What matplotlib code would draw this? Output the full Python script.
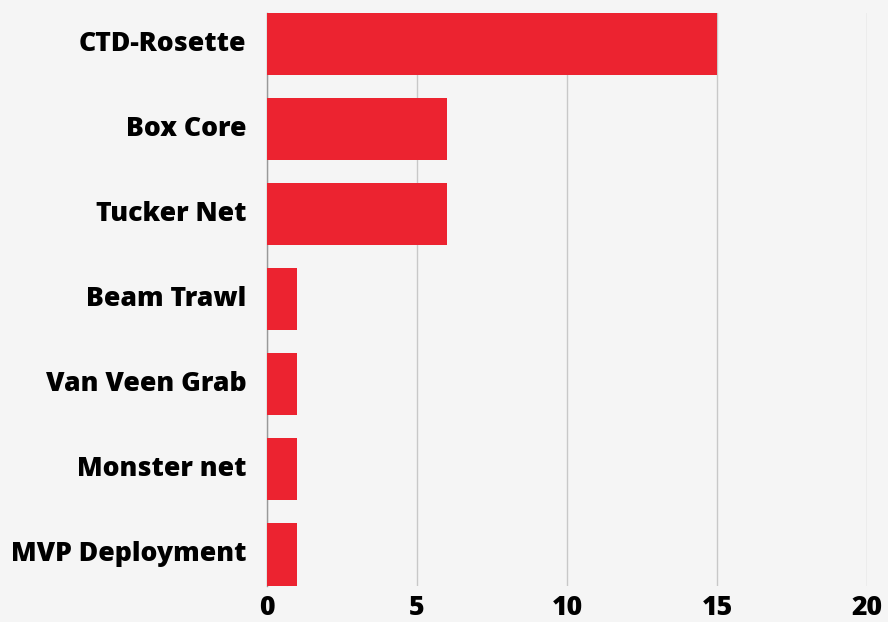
import numpy as np
import matplotlib.pyplot as plt

categories = ["CTD-Rosette", "Box Core", "Tucker Net", "Beam Trawl",
              "Van Veen Grab", "Monster net", "MVP Deployment"]
values = [15, 6, 6, 1, 1, 1, 1]
xticks = [0, 5, 10, 15, 20]

plt.rcParams['font.family'] = ['Open Sans', 'DejaVu Sans']

bg = '#F5F5F5'
fig = plt.figure(figsize=(8.88, 6.22), dpi=100, facecolor=bg)
ax = fig.add_axes([267/888, 1-585.5/622, 600/888, 572.5/622])
ax.set_facecolor(bg)

h = 62/85
y = np.arange(len(categories))
ax.barh(y, values, height=h, color='#EC2330', zorder=3)

ax.set_xlim(0, 20)
ax.set_ylim(len(categories) - 1 + h/2, -h/2)
ax.set_xticks(xticks)
ax.set_xticklabels([str(t) for t in xticks])
ax.set_yticks(y)
ax.set_yticklabels(categories)

for lab in ax.get_xticklabels() + ax.get_yticklabels():
    lab.set_fontsize(19.2)
    lab.set_fontweight('heavy')
    lab.set_color('black')
for lab in ax.get_yticklabels():
    lab.set_verticalalignment('center')

ax.tick_params(axis='y', length=0, pad=15)
ax.tick_params(axis='x', length=0, pad=7)

ax.grid(axis='x', color='#C8C8C8', linewidth=1, zorder=0)
ax.grid(axis='y', visible=False)
for s in ['top', 'right', 'bottom']:
    ax.spines[s].set_visible(False)
ax.spines['left'].set_color('#999999')
ax.spines['left'].set_linewidth(1)
ax.spines['left'].set_zorder(2)

plt.savefig('out.png', dpi=100, facecolor=bg)
